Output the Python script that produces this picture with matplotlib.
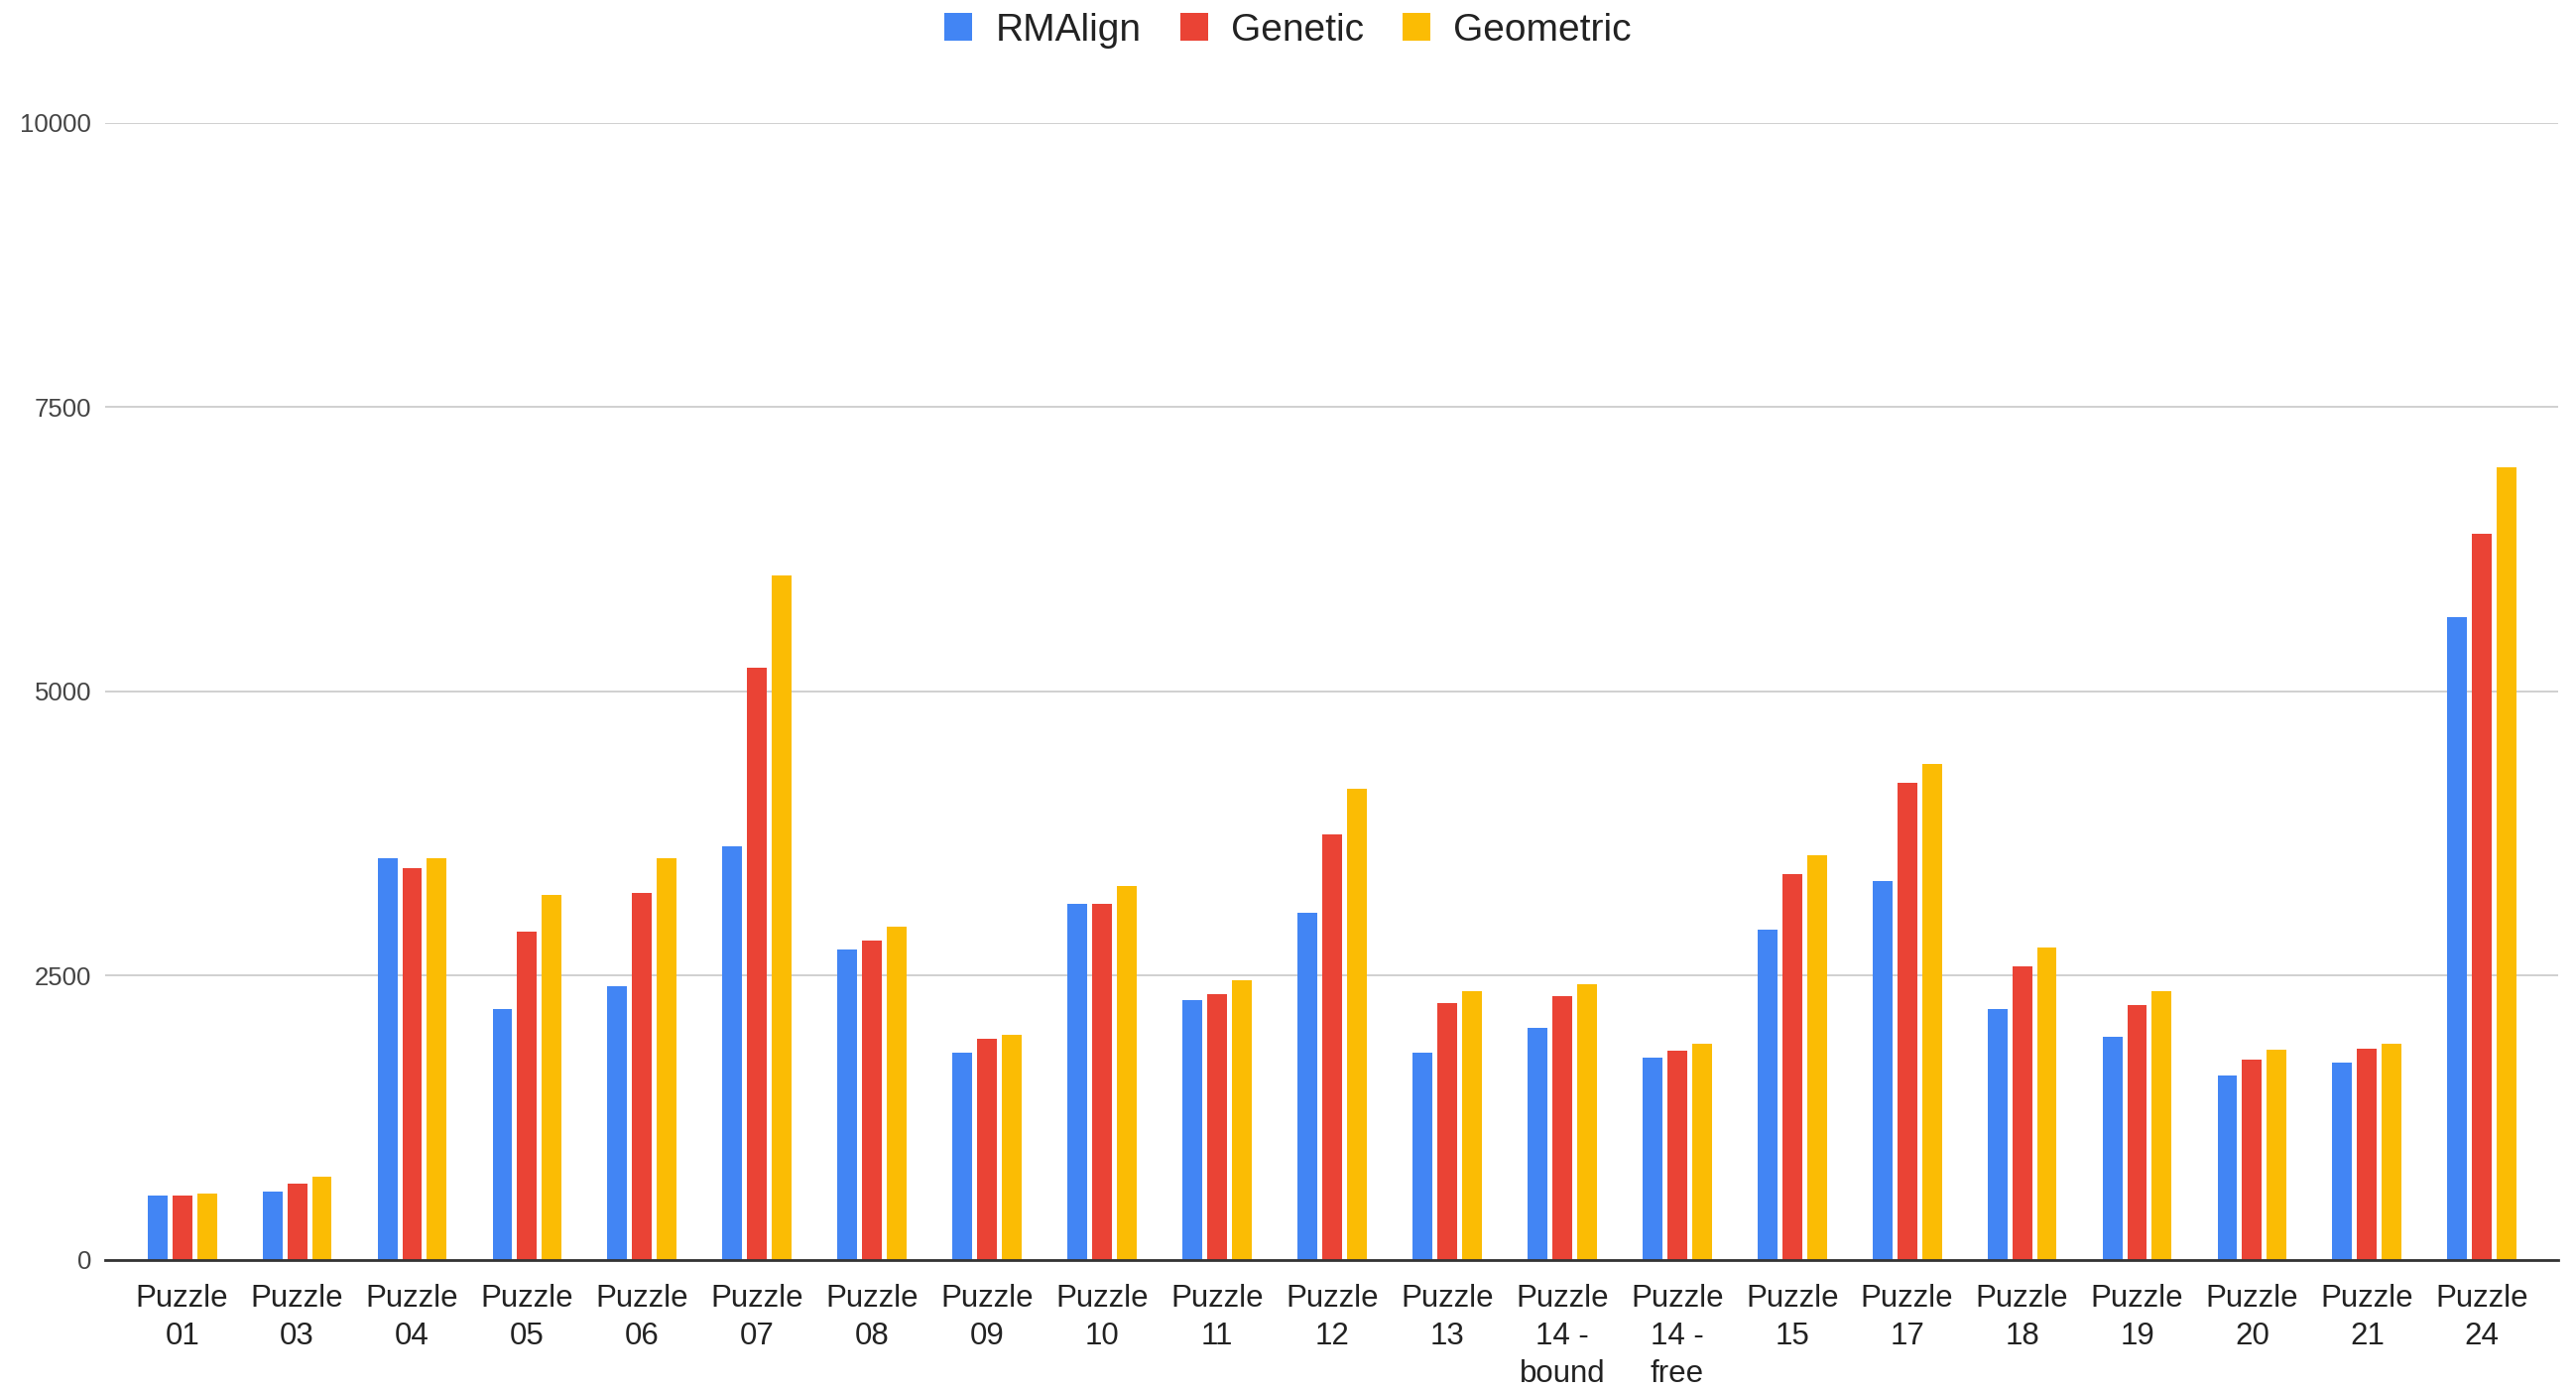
import matplotlib
matplotlib.use("Agg")
import matplotlib.pyplot as plt
from matplotlib.patches import Patch
import numpy as np

plt.rcParams['font.family'] = ['Liberation Sans', 'DejaVu Sans']

categories = ["Puzzle\n01", "Puzzle\n03", "Puzzle\n04", "Puzzle\n05", "Puzzle\n06",
              "Puzzle\n07", "Puzzle\n08", "Puzzle\n09", "Puzzle\n10", "Puzzle\n11",
              "Puzzle\n12", "Puzzle\n13", "Puzzle\n14 -\nbound", "Puzzle\n14 -\nfree",
              "Puzzle\n15", "Puzzle\n17", "Puzzle\n18", "Puzzle\n19", "Puzzle\n20",
              "Puzzle\n21", "Puzzle\n24"]

rmalign = [568, 605, 3530, 2205, 2408, 3638, 2728, 1820, 3132, 2283, 3050,
           1821, 2044, 1777, 2906, 3333, 2208, 1963, 1619, 1739, 5652]
genetic = [568, 668, 3450, 2889, 3230, 5212, 2812, 1944, 3132, 2342, 3743,
           2263, 2323, 1840, 3392, 4200, 2585, 2245, 1760, 1862, 6383]
geometric = [587, 733, 3530, 3212, 3530, 6020, 2928, 1977, 3292, 2464, 4145,
             2368, 2427, 1902, 3560, 4360, 2750, 2366, 1845, 1900, 6968]

series_names = ["RMAlign", "Genetic", "Geometric"]
series_colors = ["#4285F4", "#EA4335", "#FBBC04"]
yticks = [0, 2500, 5000, 7500, 10000]

fig = plt.figure(figsize=(25.97, 14.02), dpi=100)
ax = fig.add_axes([0.0408, 0.0942, 0.9522, 0.8174])

x = np.arange(len(categories))
bar_w = 0.172
step = 0.215
for i, (vals, col) in enumerate(zip([rmalign, genetic, geometric], series_colors)):
    ax.bar(x + (i - 1) * step, vals, width=bar_w, color=col, zorder=3)

ax.set_xlim(-0.67, len(categories) - 1 + 0.66)
ax.set_ylim(0, 10000)
ax.set_yticks(yticks)
ax.set_yticklabels([str(v) for v in yticks], fontsize=18.5, color="#444444")
ax.set_xticks(x)
ax.set_xticklabels(categories, fontsize=22.5, color="#222222", linespacing=1.36)
ax.tick_params(axis='both', length=0)
ax.tick_params(axis='y', pad=10)
ax.tick_params(axis='x', pad=17)

ax.grid(axis='y', color="#d0d0d0", linewidth=1.4, zorder=0)
ax.set_axisbelow(True)
for side in ["top", "right", "left"]:
    ax.spines[side].set_visible(False)
ax.spines["bottom"].set_color("#333333")
ax.spines["bottom"].set_linewidth(2.0)
ax.spines["bottom"].set_zorder(4)

handles = [Patch(facecolor=c, edgecolor="none", label=n)
           for n, c in zip(series_names, series_colors)]
fig.legend(handles=handles, loc="center", bbox_to_anchor=(0.5, 0.978), ncol=3,
           frameon=False, fontsize=28, handlelength=0.72, handleheight=0.72,
           handletextpad=0.6, columnspacing=1.0, labelcolor="#222222")

fig.savefig("out.png", dpi=100, facecolor="white")
